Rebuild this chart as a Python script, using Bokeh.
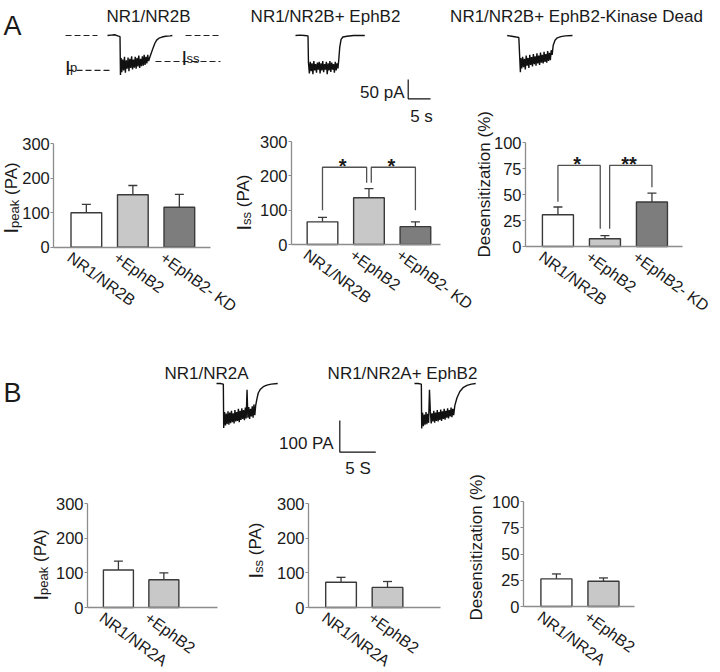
import math
from bokeh.plotting import figure
from bokeh.models import Range1d, Label, FixedTicker, LinearAxis
from bokeh.embed import file_html
from bokeh.resources import INLINE

# ------------------------------------------------------------------ data
groups_a = ["NR1/NR2B", "+EphB2", "+EphB2- KD"]
groups_b = ["NR1/NR2A", "+EphB2"]
titles_a = ["NR1/NR2B", "NR1/NR2B+ EphB2", "NR1/NR2B+ EphB2-Kinase Dead"]
titles_b = ["NR1/NR2A", "NR1/NR2A+ EphB2"]

a_peak_mean = [100, 152, 116]
a_peak_sem = [24, 27, 37]
a_ss_mean = [66, 136, 52]
a_ss_sem = [13, 27, 14]
a_des_mean = [30.5, 7.4, 42.8]
a_des_sem = [7.5, 3.0, 8.6]

b_peak_mean = [108, 80]
b_peak_sem = [26, 20]
b_ss_mean = [73, 58]
b_ss_sem = [14, 17]
b_des_mean = [26.3, 24.0]
b_des_sem = [4.7, 3.2]

current_ticks = [0, 100, 200, 300]
desens_ticks = [0, 25, 50, 75, 100]

# significance brackets (bar index from/to, bracket height, arm ends, mark)
a_ss_sig_from = [0, 1]
a_ss_sig_to = [1, 2]
a_ss_sig_top = [225, 225]
a_ss_sig_from_end = [100, 180]
a_ss_sig_to_end = [180, 100]
a_ss_sig_mark = ["*", "*"]

a_des_sig_from = [0, 1]
a_des_sig_to = [1, 2]
a_des_sig_top = [78, 78]
a_des_sig_from_end = [43, 17]
a_des_sig_to_end = [17, 57]
a_des_sig_mark = ["*", "**"]

# example current traces (time in s, current in pA)
a1_t = [0, 0.8, 1.6, 2.3, 2.8, 2.9, 3.05, 3.2, 3.4, 3.6, 3.8, 4.0, 4.2, 4.4, 4.6, 4.8,
        5.0, 5.2, 5.4, 5.6, 5.8, 6.0, 6.2, 6.4, 6.6, 6.8, 7.0, 7.2, 7.4, 7.6, 7.8, 8.0,
        8.2, 8.4, 8.6, 8.8, 9.0, 9.2, 9.5, 9.8, 10.2, 10.6, 11.0, 11.5, 12.2, 13.0, 14.0, 14.5]
a1_i = [0, 1, 2, -1, -3, -102, -58, -95, -62, -90, -55, -96, -64, -86, -57, -92,
        -60, -84, -54, -88, -62, -83, -55, -86, -58, -80, -52, -84, -60, -79, -54, -78,
        -50, -76, -55, -72, -50, -66, -55, -45, -32, -20, -12, -7, -4, -2, -1, 0]

a2_t = [0, 1.0, 2.0, 2.8, 2.9, 3.1, 3.3, 3.5, 3.7, 3.9, 4.1, 4.3, 4.5, 4.7, 4.9, 5.1,
        5.3, 5.5, 5.7, 5.9, 6.1, 6.3, 6.5, 6.7, 6.9, 7.1, 7.3, 7.5, 7.7, 7.9, 8.1, 8.3,
        8.5, 8.7, 8.9, 9.1, 9.3, 9.5, 9.7, 9.9, 10.2, 10.6, 11.5, 13.0, 15.5]
a2_i = [0, 1, 0, -1, -70, -98, -68, -92, -72, -100, -66, -90, -74, -96, -70, -88,
        -68, -98, -72, -90, -66, -95, -74, -88, -68, -100, -72, -90, -66, -94, -70, -88,
        -74, -96, -68, -90, -72, -85, -60, -30, -10, -4, -2, 0, 0]

a3_t = [0, 1.0, 2.0, 2.6, 2.95, 3.05, 3.25, 3.45, 3.65, 3.85, 4.05, 4.25, 4.45, 4.65,
        4.85, 5.05, 5.25, 5.45, 5.65, 5.85, 6.05, 6.25, 6.45, 6.65, 6.85, 7.05, 7.25,
        7.45, 7.65, 7.85, 8.05, 8.25, 8.45, 8.65, 8.85, 9.05, 9.25, 9.45, 9.65, 9.85,
        10.05, 10.3, 10.7, 11.2, 12.0, 13.0, 14.6]
a3_i = [0, -2, -4, -5, -95, -58, -85, -55, -82, -60, -88, -52, -78, -58,
        -84, -50, -76, -56, -80, -48, -74, -54, -78, -46, -72, -52, -76,
        -44, -70, -50, -72, -42, -68, -48, -70, -40, -66, -45, -64, -38,
        -50, -25, -12, -6, -3, -1, 0]

b1_t = [0, 0.5, 0.95, 1.0, 1.12, 1.24, 1.36, 1.48, 1.6, 1.72, 1.84, 1.96, 2.08, 2.2,
        2.32, 2.44, 2.56, 2.68, 2.8, 2.92, 3.04, 3.16, 3.28, 3.4, 3.52, 3.64, 3.76,
        3.88, 4.0, 4.12, 4.24, 4.36, 4.48, 4.6, 4.72, 4.84, 4.96, 5.08, 5.2, 5.32,
        5.44, 5.6, 5.8, 6.1, 6.5, 7.0, 7.6, 8.5]
b1_i = [0, 0, -2, -140, -90, -132, -95, -128, -88, -130, -92, -125, -86, -122,
        -94, -126, -84, -120, -90, -118, -80, -122, -86, -115, -78, -112, -84,
        -116, -76, -110, -20, -108, -74, -112, -80, -104, -72, -108, -66, -100,
        -70, -50, -30, -18, -10, -5, -2, 0]

b2_t = [0, 0.5, 0.95, 1.0, 1.12, 1.24, 1.36, 1.48, 1.6, 1.72, 1.84, 1.96, 2.08, 2.2,
        2.32, 2.44, 2.56, 2.68, 2.8, 2.92, 3.04, 3.16, 3.28, 3.4, 3.52, 3.64, 3.76,
        3.88, 4.0, 4.12, 4.24, 4.36, 4.48, 4.6, 4.72, 4.84, 4.96, 5.08, 5.2, 5.32,
        5.44, 5.6, 5.9, 6.3, 6.8, 7.3, 7.9, 8.5]
b2_i = [0, 0, -2, -142, -92, -135, -98, -130, -90, -128, -96, -124, -20, -88,
        -126, -94, -120, -86, -124, -92, -118, -84, -120, -90, -115, -82, -118,
        -88, -112, -80, -114, -86, -108, -78, -110, -84, -104, -76, -106, -80,
        -100, -70, -45, -25, -12, -6, -2, 0]

ip_level = -90      # pA, peak guide
iss_level = -67     # pA, steady-state guide
scale_a = (5, 50)   # s, pA
scale_b = (5, 100)  # s, pA

# ------------------------------------------------------------------ styling
CW, CH = 718, 670     # canvas size in px (1:1 with the reference)
FONT = "Liberation Sans"
INK = "#1a1a1a"
AXIS = "#8c8c8c"
EDGE = "#3a3a3a"
TRACE = "#111111"
BAR_COLORS = ["#ffffff", "#c8c8c8", "#7d7d7d"]
XLAB_ANGLE = -0.63
YLAB_SHIFT = -8       # rotated label anchor correction (px)


def fpx(v):
    return f"{v:.1f}px"


W = {"I": .278, "p": .556, "e": .556, "a": .556, "k": .5, "s": .5, " ": .278,
     "(": .333, "P": .667, "A": .667, ")": .333, "%": .889}


def tw(s, size):
    return sum(W.get(c, .55) for c in s) * size


p = figure(width=CW, height=CH, x_range=Range1d(0, CW), y_range=Range1d(CH, 0),
           x_axis_type=None, y_axis_type=None, output_backend="svg",
           toolbar_location=None, title=None, min_border=0,
           min_border_left=0, min_border_right=0, min_border_top=0, min_border_bottom=0)
p.outline_line_color = None
p.background_fill_color = "white"
p.border_fill_color = "white"


def lab(x, y, text, size, rx, ry, align="left", baseline="alphabetic", angle=0.0,
        bold=False):
    p.add_layout(Label(x=x, y=y, text=text, angle=angle, text_align=align,
                       text_baseline=baseline, text_font=FONT,
                       text_font_size=fpx(size), text_color=INK,
                       x_range_name=rx, y_range_name=ry,
                       text_font_style="bold" if bold else "normal"))


class Panel:
    """A region of the canvas with its own data coordinates."""

    def __init__(self, name, fx, fy):
        self.nx, self.ny = name + "_x", name + "_y"
        self.fx, self.fy = fx, fy
        p.extra_x_ranges[self.nx] = Range1d(fx(0), fx(CW))
        p.extra_y_ranges[self.ny] = Range1d(fy(CH), fy(0))

    def kw(self):
        return dict(x_range_name=self.nx, y_range_name=self.ny)

    def text(self, px, py, text, size, **k):
        lab(self.fx(px), self.fy(py), text, size, self.nx, self.ny, **k)


class Chart(Panel):
    def __init__(self, name, frame, xr, ymax, ticks):
        fl, fr, ft, fb = frame
        self.xr = xr
        self.ppu = (fr - fl) / (xr[1] - xr[0])
        self.ppy = (fb - ft) / ymax
        super().__init__(name,
                         lambda px: xr[0] + (px - fl) / self.ppu,
                         lambda py: (fb - py) / self.ppy)
        ya = LinearAxis(fixed_location=xr[0], bounds=(0, ymax),
                        ticker=FixedTicker(ticks=ticks), **self.kw())
        ya.axis_line_color = AXIS
        ya.axis_line_width = 1.3
        ya.major_tick_line_color = AXIS
        ya.major_tick_line_width = 1.2
        ya.major_tick_in = 0
        ya.major_tick_out = 3
        ya.minor_tick_out = 0
        ya.minor_tick_in = 0
        ya.major_label_standoff = 1
        ya.major_label_text_font = FONT
        ya.major_label_text_font_size = fpx(16.5)
        ya.major_label_text_color = INK
        p.add_layout(ya, "left")
        xa = LinearAxis(fixed_location=0, bounds=xr, ticker=FixedTicker(ticks=[]),
                        **self.kw())
        xa.axis_line_color = AXIS
        xa.axis_line_width = 1.3
        xa.major_tick_out = 0
        xa.major_tick_in = 0
        xa.minor_tick_out = 0
        xa.minor_tick_in = 0
        xa.major_label_text_font_size = "0px"
        p.add_layout(xa, "below")

    def bars(self, means, sems, names):
        idx = list(range(len(means)))
        tops = [m + s for m, s in zip(means, sems)]
        cap = 4.5 / self.ppu
        p.segment(x0=idx, y0=means, x1=idx, y1=tops, line_color=EDGE,
                  line_width=1.3, **self.kw())
        p.segment(x0=[i - cap for i in idx], y0=tops, x1=[i + cap for i in idx],
                  y1=tops, line_color=EDGE, line_width=1.3, **self.kw())
        p.vbar(x=idx, top=means, bottom=0, width=0.66,
               fill_color=BAR_COLORS[:len(means)], line_color=EDGE, line_width=1.4,
               **self.kw())
        for i, name in enumerate(names):
            lab(i - 12 / self.ppu, -1.5 / self.ppy, name, 16, self.nx, self.ny,
                align="left", baseline="top", angle=XLAB_ANGLE)

    def sig(self, frm, to, top, fend, tend, marks, gap):
        for a, b, t, e1, e2, m in zip(frm, to, top, fend, tend, marks):
            xa = a + gap if a == 1 else a
            xb = b - gap if b == 1 else b
            p.line(x=[xa, xa, xb, xb], y=[e1, t, t, e2], line_color="#505050",
                   line_width=1.3, **self.kw())
            lab((xa + xb) / 2 - 0.04, t + 1.0 / self.ppy, m, 20, self.nx, self.ny,
                align="center", bold=True)

    def ylabel(self, parts, bx, by):
        y = by
        bx = bx + YLAB_SHIFT
        for text, size, shift in parts:
            lead = len(text) - len(text.lstrip())
            y -= tw(" " * lead, size)
            body = text.strip()
            self.text(bx + shift, y, body, size, angle=math.pi / 2)
            y -= tw(body, size)


# ------------------------------------------------------------------ header A
A_PX_PER_S = 4.47
A_PX_PER_PA = 0.387
hA = Panel("hA", lambda px: (px - 107) / A_PX_PER_S, lambda py: -(py - 35) / A_PX_PER_PA)

hA.text(3, 25, "A", 27)
for txt, cx in zip(titles_a, [148, 325, 576]):
    hA.text(cx, 16, txt, 17, align="center")

for tt, ii, x0 in zip([a1_t, a2_t, a3_t], [a1_i, a2_i, a3_i], [107, 295, 506.7]):
    p.line(x=[v + hA.fx(x0) for v in tt], y=ii, line_color=TRACE, line_width=1.4,
           **hA.kw())

dash = dict(line_color="#222222", line_width=1.1, line_dash="6 3", **hA.kw())
p.line(x=[hA.fx(65), hA.fx(97)], y=[0, 0], **dash)
p.line(x=[hA.fx(67), hA.fx(112)], y=[ip_level, ip_level], **dash)
p.line(x=[hA.fx(185), hA.fx(218)], y=[0, 0], **dash)
p.line(x=[hA.fx(155), hA.fx(220)], y=[iss_level, iss_level], **dash)
hA.text(64.5, 67, "I", 20)
hA.text(69.5, 67, "p", 13)
hA.text(181, 57, "I", 20)
hA.text(186, 57.5, "ss", 13)

sbx, sby = hA.fx(407.7), hA.fy(98.3)
p.line(x=[sbx, sbx, sbx + scale_a[0]], y=[sby + scale_a[1], sby, sby],
       line_color=TRACE, line_width=1.2, **hA.kw())
hA.text(404, 92, "50 pA", 17, align="right")
hA.text(421, 115.5, "5 s", 17, align="center")

# ------------------------------------------------------------------ charts A
A1 = Chart("A1", (53.3, 210, 143.3, 246.7), (-0.70, 2.67), 300, current_ticks)
A2 = Chart("A2", (291, 440, 141, 244), (-0.667, 2.54), 300, current_ticks)
A3 = Chart("A3", (525, 682, 142, 246), (-0.69, 2.65), 100, desens_ticks)

A1.bars(a_peak_mean, a_peak_sem, groups_a)
A2.bars(a_ss_mean, a_ss_sem, groups_a)
A3.bars(a_des_mean, a_des_sem, groups_a)
A2.sig(a_ss_sig_from, a_ss_sig_to, a_ss_sig_top, a_ss_sig_from_end, a_ss_sig_to_end,
       a_ss_sig_mark, 0.05)
A3.sig(a_des_sig_from, a_des_sig_to, a_des_sig_top, a_des_sig_from_end, a_des_sig_to_end,
       a_des_sig_mark, 0.1)

peak_parts = [("I", 20, 0), ("peak", 13, 3), (" (PA)", 17, 0)]
ss_parts = [("I", 20, 0), ("ss", 13, 3), (" (PA)", 17, 0)]
des_parts = [("Desensitization (%)", 17, 0)]

A1.ylabel(peak_parts, 18.5, 233)
A2.ylabel(ss_parts, 251, 230)
A3.ylabel(des_parts, 492, 257)

# ------------------------------------------------------------------ header B
B_PX_PER_S = 7.2
B_PX_PER_PA = 0.317
hB = Panel("hB", lambda px: (px - 216) / B_PX_PER_S, lambda py: -(py - 383) / B_PX_PER_PA)

hB.text(3, 392, "B", 27)
for txt, cx in zip(titles_b, [206, 402]):
    hB.text(cx, 373, txt, 17, align="center")

for tt, ii, x0 in zip([b1_t, b2_t], [b1_i, b2_i], [216, 414]):
    p.line(x=[v + hB.fx(x0) for v in tt], y=ii, line_color=TRACE, line_width=1.4,
           **hB.kw())

sbx, sby = hB.fx(339.3), hB.fy(451.7)
p.line(x=[sbx, sbx, sbx + scale_b[0]], y=[sby + scale_b[1], sby, sby],
       line_color=TRACE, line_width=1.2, **hB.kw())
hB.text(333, 443, "100 PA", 17, align="right")
hB.text(357.5, 468, "5 S", 17, align="center")

# ------------------------------------------------------------------ charts B
B1 = Chart("B1", (87, 217, 503, 607), (-0.68, 2.18), 300, current_ticks)
B2 = Chart("B2", (308, 440, 503, 607), (-0.70, 2.14), 300, current_ticks)
B3 = Chart("B3", (523, 634, 501, 606), (-0.70, 1.66), 100, desens_ticks)

B1.bars(b_peak_mean, b_peak_sem, groups_b)
B2.bars(b_ss_mean, b_ss_sem, groups_b)
B3.bars(b_des_mean, b_des_sem, groups_b)

B1.ylabel(peak_parts, 48, 600)
B2.ylabel(ss_parts, 263, 578)
B3.ylabel(des_parts, 484, 620)

with open("out.html", "w") as f:
    f.write(file_html(p, INLINE))
